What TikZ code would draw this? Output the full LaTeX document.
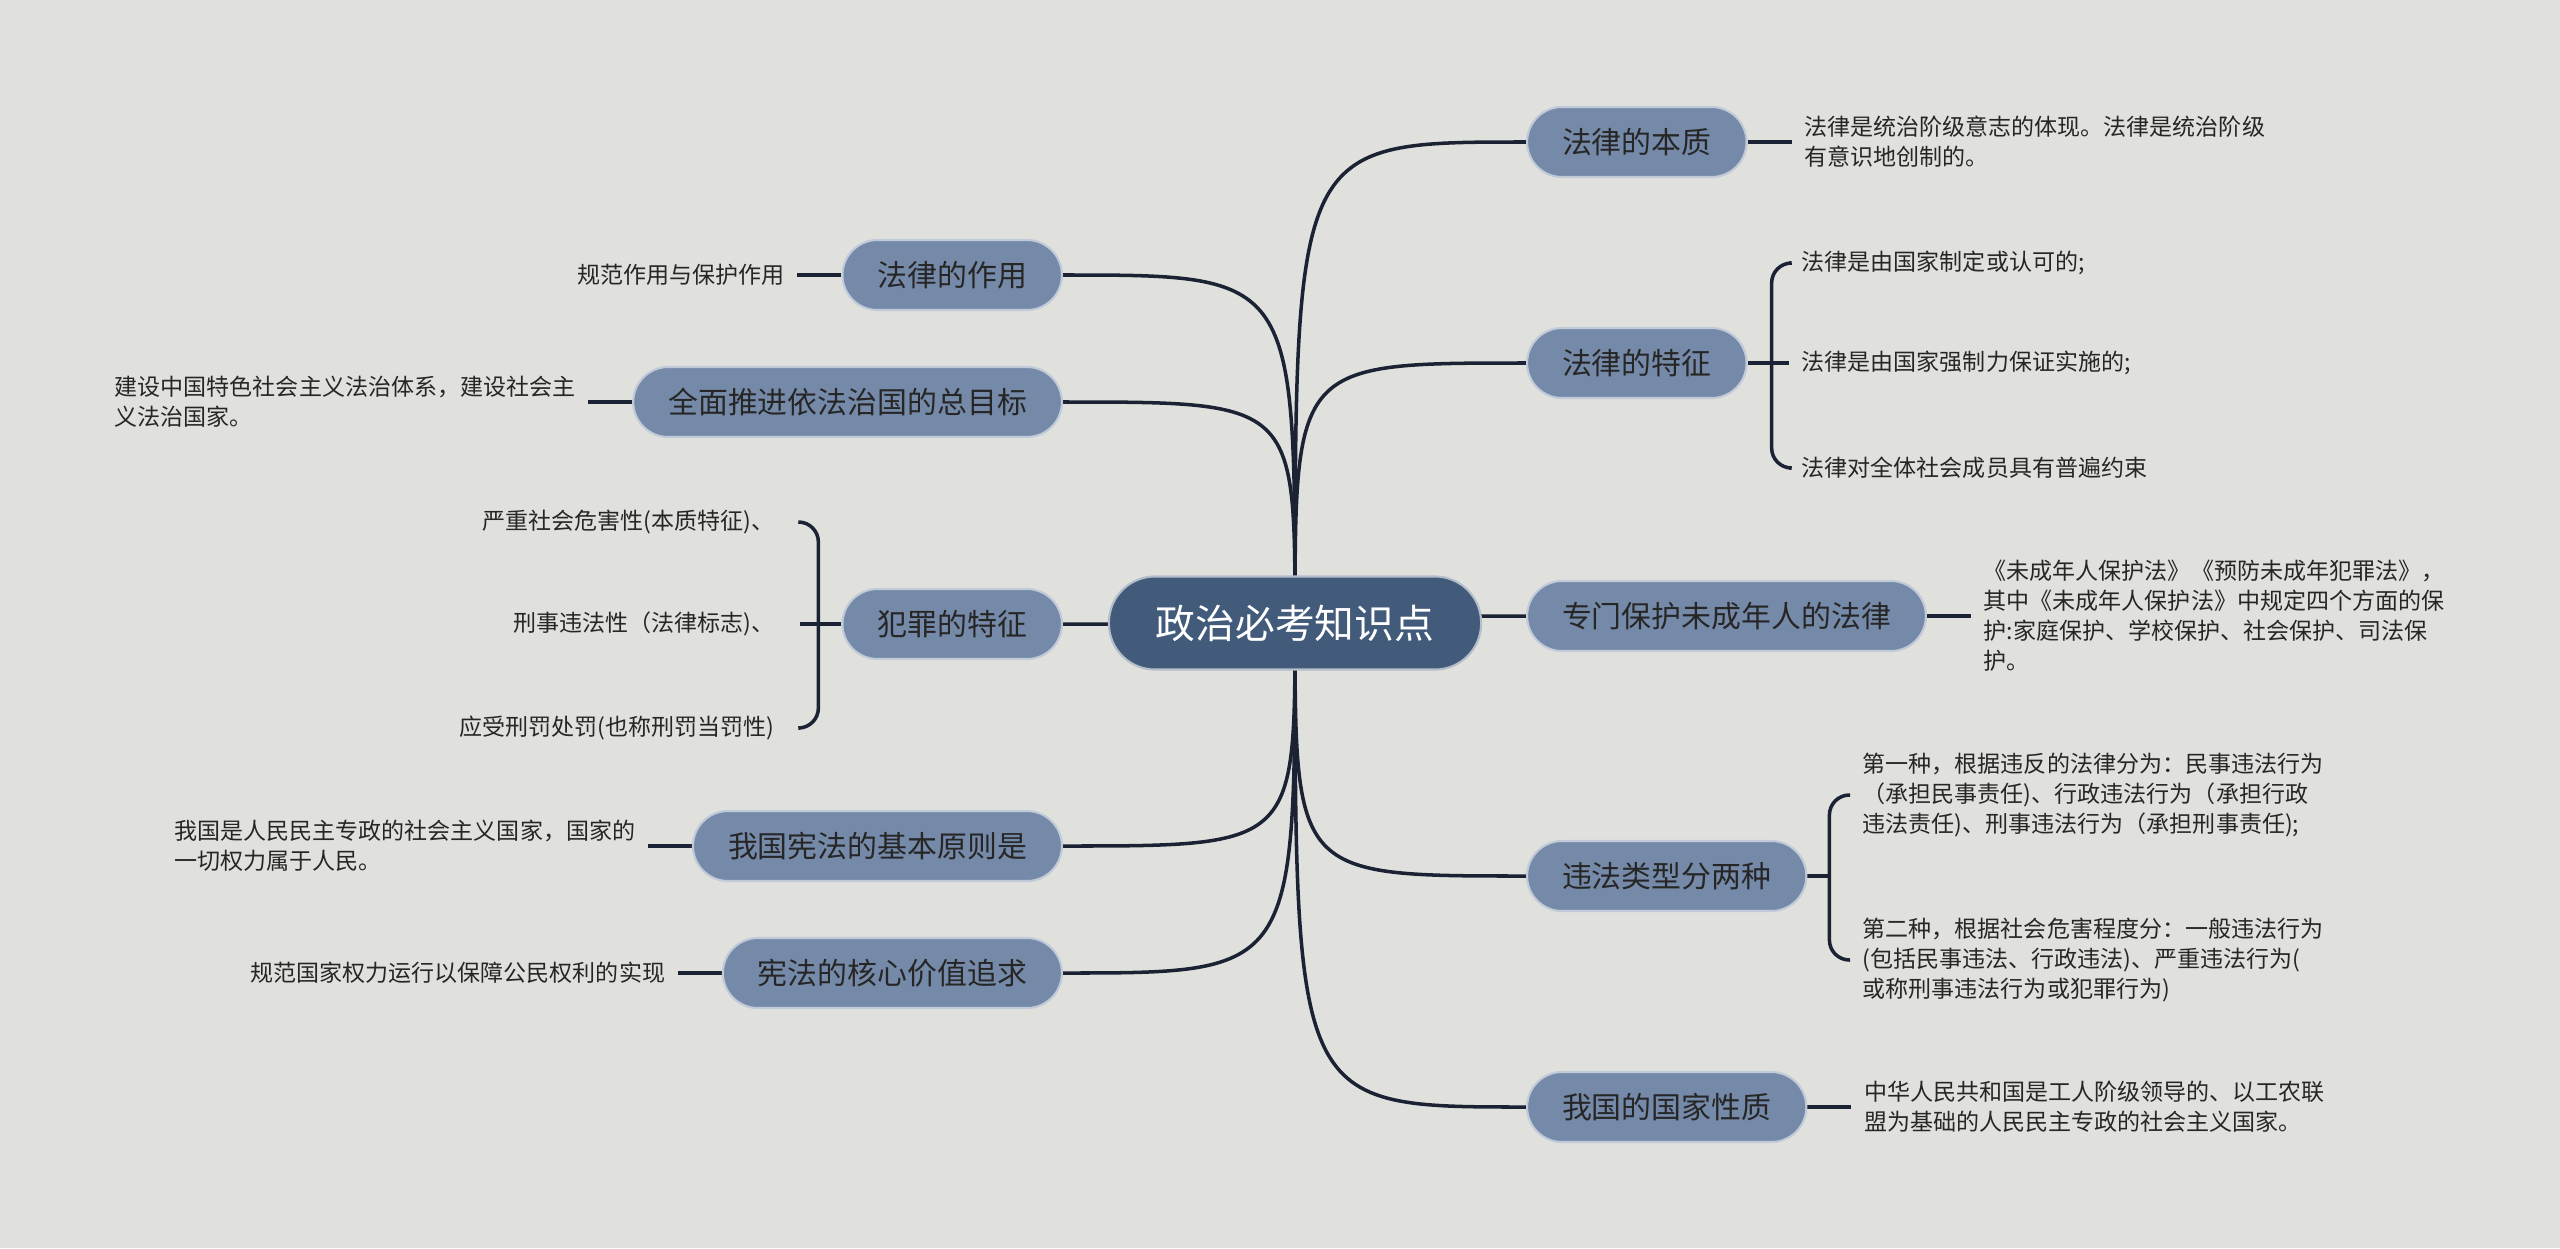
\documentclass[tikz,border=0pt]{standalone}
\usepackage{fontspec}
\setmainfont{Noto Sans CJK SC}
\usepackage{xcolor}
\usepackage{tikz}
\usetikzlibrary{positioning,calc,backgrounds}
\definecolor{bgGray}{HTML}{E0E1DC}
\definecolor{topicBlue}{HTML}{7589A8}
\definecolor{rootBlue}{HTML}{435B7B}
\definecolor{linkNavy}{HTML}{1A2234}
\definecolor{textDark}{HTML}{262626}

\begin{document}
\begin{tikzpicture}[x=0.01cm, y=-0.01cm,
  rootnode/.style={draw=white!60!rootBlue, line width=0.6pt, fill=rootBlue, rounded corners=0.46cm,
    minimum height=0.93cm, inner xsep=0.47cm, text=white, font=\fontsize{11.3pt}{13pt}\selectfont},
  topic/.style={draw=white!55!topicBlue, line width=0.6pt, fill=topicBlue, rounded corners=0.35cm,
    minimum height=0.7cm, inner xsep=0.35cm, text=textDark, font=\fontsize{8.5pt}{10pt}\selectfont},
  leaf/.style={inner sep=0.12cm, align=left, text=textDark, font=\fontsize{6.55pt}{8.54pt}\selectfont},
  link/.style={draw=linkNavy, line width=1pt},
  node distance=0.44cm]
\node[rootnode] (root) at (1295,623) {政治必考知识点};
% left side
\node[topic, anchor=east] (t1) at (1063,275) {法律的作用};
\node[topic, anchor=east] (t2) at (1063,402) {全面推进依法治国的总目标};
\node[topic, anchor=east] (t3) at (1063,624) {犯罪的特征};
\node[topic, anchor=east] (t4) at (1063,846) {我国宪法的基本原则是};
\node[topic, anchor=east] (t5) at (1063,973) {宪法的核心价值追求};
% right side
\node[topic, anchor=west] (t6) at (1526,142) {法律的本质};
\node[topic, anchor=west] (t7) at (1526,363) {法律的特征};
\node[topic, anchor=west] (t8) at (1526,616) {专门保护未成年人的法律};
\node[topic, anchor=west] (t9) at (1526,876) {违法类型分两种};
\node[topic, anchor=west] (t10) at (1526,1107) {我国的国家性质};
% leaves
\node[leaf, left=of t1] (l1) {规范作用与保护作用};
\node[leaf, left=of t2] (l2) {建设中国特色社会主义法治体系，建设社会主\\义法治国家。};
\node[leaf, left=of t4] (l4) {我国是人民民主专政的社会主义国家，国家的\\一切权力属于人民。};
\node[leaf, left=of t5] (l5) {规范国家权力运行以保障公民权利的实现};
\node[leaf, right=of t6] (l6) {法律是统治阶级意志的体现。法律是统治阶级\\有意识地创制的。};
\node[leaf, right=of t8] (l8) {《未成年人保护法》《预防未成年犯罪法》，\\其中《未成年人保护法》中规定四个方面的保\\护:家庭保护、学校保护、社会保护、司法保\\护。};
\node[leaf, right=of t10] (l10) {中华人民共和国是工人阶级领导的、以工农联\\盟为基础的人民民主专政的社会主义国家。};
\node[leaf, anchor=east] (k1) at (787,522) {严重社会危害性(本质特征)、};
\node[leaf, anchor=east] (k2) at (787,624) {刑事违法性（法律标志)、};
\node[leaf, anchor=east] (k3) at (787,728) {应受刑罚处罚(也称刑罚当罚性)};
\node[leaf, anchor=west] (j1) at (1789,263) {法律是由国家制定或认可的;};
\node[leaf, anchor=west] (j2) at (1789,363) {法律是由国家强制力保证实施的;};
\node[leaf, anchor=west] (j3) at (1789,468) {法律对全体社会成员具有普遍约束};
\node[leaf, anchor=west] (v1) at (1850,795) {第一种，根据违反的法律分为：民事违法行为\\（承担民事责任)、行政违法行为（承担行政\\违法责任)、刑事违法行为（承担刑事责任);};
\node[leaf, anchor=west] (v2) at (1850,960) {第二种，根据社会危害程度分：一般违法行为\\(包括民事违法、行政违法)、严重违法行为(\\或称刑事违法行为或犯罪行为)};

\begin{scope}[on background layer]
\fill[bgGray] (0,0) rectangle (2560,1248);
% root to topics
\foreach \t in {t1,t2,t3,t4,t5}
  \draw[link] (root.center) .. controls (root.center |- \t.east) .. (\t.east);
\foreach \t in {t6,t7,t8,t9,t10}
  \draw[link] (root.center) .. controls (root.center |- \t.west) .. (\t.west);
% topics to leaves
\foreach \a/\b in {t1/l1,t2/l2,t4/l4,t5/l5}
  \draw[link] (\a.west) -- (\b.east);
\foreach \a/\b in {t6/l6,t8/l8,t10/l10}
  \draw[link] (\a.east) -- (\b.west);
% braces
\draw[link, rounded corners=0.2cm] ([xshift=0.13cm]k1.east) -| ([xshift=-0.23cm]t3.west) |- ([xshift=0.13cm]k3.east);
\draw[link] ([xshift=0.13cm]k2.east) -- (t3.west);
\draw[link, rounded corners=0.2cm] (j1.west) -| ([xshift=0.24cm]t7.east) |- (j3.west);
\draw[link] (t7.east) -- (j2.west);
\draw[link, rounded corners=0.2cm] (v1.west) -| ([xshift=0.22cm]t9.east) |- (v2.west);
\draw[link] (t9.east) -- ([xshift=0.22cm]t9.east);
\end{scope}
\end{tikzpicture}
\end{document}
